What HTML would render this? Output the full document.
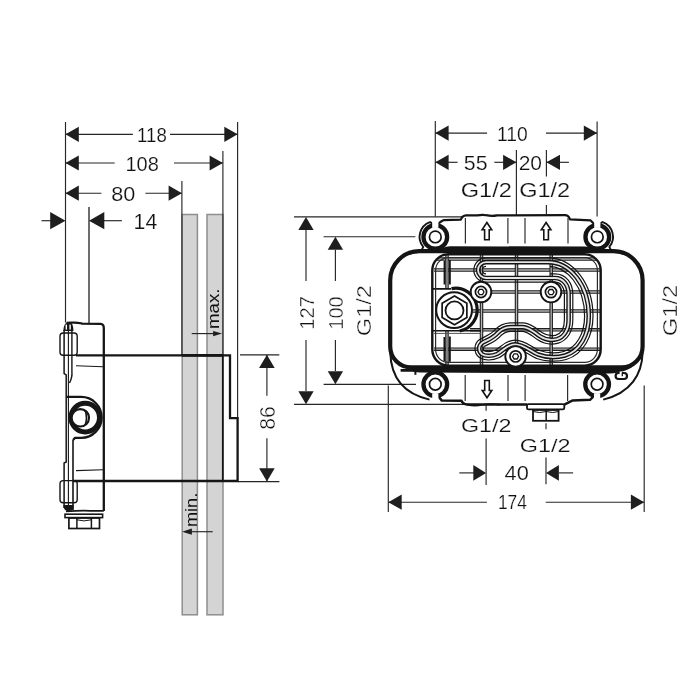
<!DOCTYPE html>
<html><head><meta charset="utf-8"><style>
html,body{margin:0;padding:0;background:#fff;width:700px;height:700px;overflow:hidden}
svg{display:block;filter:grayscale(1)}
text{font-family:"Liberation Sans",sans-serif}
.t{opacity:0.995}
</style></head><body>
<svg width="700" height="700" viewBox="0 0 700 700">
<rect width="700" height="700" fill="#fff"/>
<rect x="182.2" y="214.5" width="15.2" height="400.3" fill="#d4d4d4" stroke="#8e8e8e" stroke-width="1.5"/>
<rect x="207" y="214.5" width="16" height="400.3" fill="#d4d4d4" stroke="#8e8e8e" stroke-width="1.5"/>
<line x1="65.5" y1="122" x2="65.5" y2="322.5" stroke="#262626" stroke-width="1.15" />
<line x1="89" y1="207" x2="89" y2="323.5" stroke="#262626" stroke-width="1.35" />
<line x1="181.9" y1="181" x2="181.9" y2="355.4" stroke="#262626" stroke-width="1.15" />
<line x1="222.9" y1="151" x2="222.9" y2="355.4" stroke="#262626" stroke-width="1.15" />
<line x1="237.6" y1="122" x2="237.6" y2="418.2" stroke="#262626" stroke-width="1.15" />
<line x1="65.5" y1="134.3" x2="132.9" y2="134.3" stroke="#262626" stroke-width="1.15" />
<line x1="170" y1="134.3" x2="237.6" y2="134.3" stroke="#262626" stroke-width="1.15" />
<polygon points="65.50,134.30 78.80,126.70 78.80,141.90" fill="#1e1e1e"/>
<polygon points="237.60,134.30 224.30,126.70 224.30,141.90" fill="#1e1e1e"/>
<text class="t" transform="translate(137.11,141.90) scale(0.8816,1)" font-size="21.14" fill="#111" stroke="#fff" stroke-width="0.2">118</text>
<line x1="65.5" y1="163" x2="114.7" y2="163" stroke="#262626" stroke-width="1.15" />
<line x1="174" y1="163" x2="222.9" y2="163" stroke="#262626" stroke-width="1.15" />
<polygon points="65.50,163.00 78.80,155.40 78.80,170.60" fill="#1e1e1e"/>
<polygon points="222.90,163.00 209.60,155.40 209.60,170.60" fill="#1e1e1e"/>
<text class="t" transform="translate(125.50,170.70) scale(0.9790,1)" font-size="20.43" fill="#111" stroke="#fff" stroke-width="0.2">108</text>
<line x1="65.5" y1="193.2" x2="101.4" y2="193.2" stroke="#262626" stroke-width="1.15" />
<line x1="145.4" y1="193.2" x2="181.9" y2="193.2" stroke="#262626" stroke-width="1.15" />
<polygon points="65.50,193.20 78.80,185.60 78.80,200.80" fill="#1e1e1e"/>
<polygon points="181.90,193.20 168.60,185.60 168.60,200.80" fill="#1e1e1e"/>
<text class="t" transform="translate(111.13,200.70) scale(1.0598,1)" font-size="20.43" fill="#111" stroke="#fff" stroke-width="0.2">80</text>
<line x1="41.5" y1="220.7" x2="52" y2="220.7" stroke="#262626" stroke-width="1.15" />
<line x1="100" y1="220.7" x2="121.9" y2="220.7" stroke="#262626" stroke-width="1.15" />
<polygon points="65.50,220.70 50.20,212.10 50.20,229.30" fill="#1e1e1e"/>
<polygon points="89.00,220.70 104.30,212.10 104.30,229.30" fill="#1e1e1e"/>
<text class="t" transform="translate(133.60,229.20) scale(0.9998,1)" font-size="21.30" fill="#111" stroke="#fff" stroke-width="0.2">14</text>
<line x1="240" y1="354.8" x2="279.3" y2="354.8" stroke="#262626" stroke-width="1.15" />
<line x1="238" y1="481.6" x2="279.4" y2="481.6" stroke="#262626" stroke-width="1.15" />
<line x1="266.9" y1="354.8" x2="266.9" y2="395.8" stroke="#262626" stroke-width="1.15" />
<line x1="266.9" y1="438.3" x2="266.9" y2="481.6" stroke="#262626" stroke-width="1.15" />
<polygon points="266.90,354.80 259.10,368.10 274.70,368.10" fill="#1e1e1e"/>
<polygon points="266.90,481.60 259.10,468.30 274.70,468.30" fill="#1e1e1e"/>
<text class="t" transform="translate(275.10,429.75) rotate(-90) scale(0.9943,1)" font-size="21.29" fill="#111" stroke="#fff" stroke-width="0.4">86</text>
<line x1="191.7" y1="333.6" x2="214" y2="333.6" stroke="#262626" stroke-width="1.15" />
<polygon points="222.10,333.60 213.10,331.00 213.10,336.20" fill="#1e1e1e"/>
<text class="t" transform="translate(219.30,329.11) rotate(-90) scale(1.1254,1)" font-size="16.67" fill="#111" >max.</text>
<line x1="190" y1="531.7" x2="212.7" y2="531.7" stroke="#262626" stroke-width="1.15" />
<polygon points="182.10,531.70 191.90,528.60 191.90,534.80" fill="#1e1e1e"/>
<text class="t" transform="translate(197.40,527.07) rotate(-90) scale(1.0427,1)" font-size="17.41" fill="#111" >min.</text>
<path d="M76,355.4 L230,355.4 L230,418.2 L237.6,418.2 L237.6,481 L73,481" fill="none" stroke="#161616" stroke-width="2.3" stroke-linejoin="miter"/>
<line x1="222.8" y1="355.4" x2="222.8" y2="481" stroke="#161616" stroke-width="1.8" />
<line x1="181.9" y1="355.4" x2="223" y2="355.4" stroke="#161616" stroke-width="2.6" />
<path d="M66.5,322.8 C70,322.4 80,322.6 82,323.6 L100.5,323.8 Q103.8,324 103.8,328 L103.8,511" fill="none" stroke="#161616" stroke-width="2.3"/>
<line x1="76" y1="365.8" x2="103" y2="366.8" stroke="#161616" stroke-width="1.1" />
<line x1="76" y1="470.6" x2="103" y2="469.8" stroke="#161616" stroke-width="1.1" />
<path d="M64.1,330 L64.1,373.5 L66.2,375 L66.2,462 L64.1,463 L64.1,508" fill="none" stroke="#161616" stroke-width="1.5"/>
<line x1="68.4" y1="330" x2="68.4" y2="510" stroke="#161616" stroke-width="1.1" />
<path d="M71.9,330 L71.9,372 Q72.5,377 69.5,383" fill="none" stroke="#161616" stroke-width="1.4"/>
<line x1="73" y1="440" x2="73" y2="510" stroke="#161616" stroke-width="1.6" />
<path d="M63.4,331 Q63.6,323.5 67.5,322.6 L70.5,322.6 Q73.4,324 73.4,331 Z" fill="#161616"/>
<rect x="65.6" y="324.6" width="1.4" height="5" fill="#fff"/>
<rect x="69.4" y="324.6" width="1.4" height="5" fill="#fff"/>
<rect x="60" y="333" width="17.2" height="22.3" rx="3.2" fill="none" stroke="#161616" stroke-width="1.4"/>
<rect x="60" y="480.6" width="17.2" height="22.2" rx="3.2" fill="none" stroke="#161616" stroke-width="1.4"/>
<path d="M63.4,505 L73.4,505 L73.4,509 Q70,512 67,511 Q63.4,510 63.4,505 Z" fill="#161616"/>
<path d="M66,511.3 Q80,510.5 90,510.8 L103.8,510.8" fill="none" stroke="#161616" stroke-width="1.8"/>
<path d="M66.5,396.9 L81.2,396.9 A20.5,20.5 0 0 1 81.2,437.9 L75,437.9 L73,440" fill="none" stroke="#161616" stroke-width="2.2"/>
<circle cx="85.2" cy="417.6" r="14.3" fill="none" stroke="#161616" stroke-width="5"/>
<circle cx="80.3" cy="417.8" r="8.7" fill="#fff" stroke="#161616" stroke-width="2.2"/>
<path d="M85.3,410.8 Q87.6,417.8 85.3,424.8" fill="none" stroke="#161616" stroke-width="1.6"/>
<rect x="65" y="514.2" width="37.6" height="3.4" fill="none" stroke="#161616" stroke-width="1.6"/>
<rect x="68.9" y="518" width="30.6" height="10.5" fill="none" stroke="#161616" stroke-width="1.7"/>
<line x1="76.9" y1="518" x2="76.9" y2="528.5" stroke="#161616" stroke-width="1.5" />
<line x1="91.4" y1="518" x2="91.4" y2="528.5" stroke="#161616" stroke-width="1.5" />
<path d="M76.9,519.8 Q84,522 91.4,519.8" fill="none" stroke="#161616" stroke-width="1"/>
<line x1="435.3" y1="121" x2="435.3" y2="216.5" stroke="#262626" stroke-width="1.15" />
<line x1="597.1" y1="121.4" x2="597.1" y2="216.5" stroke="#262626" stroke-width="1.15" />
<line x1="516.4" y1="150" x2="516.4" y2="215" stroke="#262626" stroke-width="1.15" />
<line x1="546.4" y1="150" x2="546.4" y2="176.4" stroke="#262626" stroke-width="1.15" />
<line x1="546.4" y1="205" x2="546.4" y2="214" stroke="#262626" stroke-width="1.15" />
<line x1="435.3" y1="133.1" x2="487.1" y2="133.1" stroke="#262626" stroke-width="1.15" />
<line x1="546" y1="133.1" x2="597.1" y2="133.1" stroke="#262626" stroke-width="1.15" />
<polygon points="435.30,133.10 448.60,125.50 448.60,140.70" fill="#1e1e1e"/>
<polygon points="597.10,133.10 583.80,125.50 583.80,140.70" fill="#1e1e1e"/>
<text class="t" transform="translate(497.06,141.00) scale(0.9230,1)" font-size="20.86" fill="#111" stroke="#fff" stroke-width="0.2">110</text>
<line x1="435.3" y1="162.3" x2="457.6" y2="162.3" stroke="#262626" stroke-width="1.15" />
<line x1="494.3" y1="162.3" x2="516.4" y2="162.3" stroke="#262626" stroke-width="1.15" />
<polygon points="435.30,162.30 448.60,154.70 448.60,169.90" fill="#1e1e1e"/>
<polygon points="516.40,162.30 503.10,154.70 503.10,169.90" fill="#1e1e1e"/>
<text class="t" transform="translate(463.85,169.70) scale(1.0306,1)" font-size="20.72" fill="#111" stroke="#fff" stroke-width="0.2">55</text>
<line x1="546.4" y1="162.3" x2="568.9" y2="162.3" stroke="#262626" stroke-width="1.15" />
<polygon points="546.40,162.30 560.00,154.70 560.00,169.90" fill="#1e1e1e"/>
<text class="t" transform="translate(518.65,169.70) scale(1.0270,1)" font-size="20.43" fill="#111" stroke="#fff" stroke-width="0.2">20</text>
<text class="t" transform="translate(460.72,197.10) scale(1.1473,1)" font-size="20.55" fill="#111" stroke="#fff" stroke-width="0.2">G1/2</text>
<text class="t" transform="translate(519.22,197.10) scale(1.1450,1)" font-size="20.55" fill="#111" stroke="#fff" stroke-width="0.2">G1/2</text>
<line x1="294" y1="216.9" x2="463" y2="216.9" stroke="#262626" stroke-width="1.15" />
<line x1="294" y1="404.3" x2="470" y2="404.3" stroke="#262626" stroke-width="1.15" />
<line x1="306" y1="230" x2="306" y2="281.1" stroke="#262626" stroke-width="1.15" />
<line x1="306" y1="340" x2="306" y2="391" stroke="#262626" stroke-width="1.15" />
<polygon points="306.00,216.90 298.35,230.00 313.65,230.00" fill="#1e1e1e"/>
<polygon points="306.00,404.30 298.35,391.20 313.65,391.20" fill="#1e1e1e"/>
<text class="t" transform="translate(313.60,329.71) rotate(-90) scale(0.9586,1)" font-size="21.00" fill="#111" stroke="#fff" stroke-width="0.4">127</text>
<line x1="323.6" y1="236.7" x2="415.4" y2="236.7" stroke="#262626" stroke-width="1.15" />
<line x1="323.6" y1="384.3" x2="416" y2="384.3" stroke="#262626" stroke-width="1.15" />
<line x1="335.4" y1="249.7" x2="335.4" y2="281.1" stroke="#262626" stroke-width="1.15" />
<line x1="335.4" y1="340" x2="335.4" y2="371.1" stroke="#262626" stroke-width="1.15" />
<polygon points="335.40,236.70 327.75,249.80 343.05,249.80" fill="#1e1e1e"/>
<polygon points="335.40,384.30 327.75,371.20 343.05,371.20" fill="#1e1e1e"/>
<text class="t" transform="translate(343.10,329.70) rotate(-90) scale(0.9459,1)" font-size="21.14" fill="#111" stroke="#fff" stroke-width="0.4">100</text>
<text class="t" transform="translate(371.40,336.18) rotate(-90) scale(1.1198,1)" font-size="21.10" fill="#111" stroke="#fff" stroke-width="0.4">G1/2</text>
<text class="t" transform="translate(677.00,336.18) rotate(-90) scale(1.1520,1)" font-size="20.55" fill="#111" stroke="#fff" stroke-width="0.4">G1/2</text>
<line x1="388.3" y1="385.4" x2="388.3" y2="512" stroke="#262626" stroke-width="1.15" />
<line x1="644.2" y1="385.6" x2="644.2" y2="512" stroke="#262626" stroke-width="1.15" />
<line x1="388.3" y1="502.2" x2="486.9" y2="502.2" stroke="#262626" stroke-width="1.15" />
<line x1="545.7" y1="502.2" x2="644.2" y2="502.2" stroke="#262626" stroke-width="1.15" />
<polygon points="388.30,502.20 401.70,494.60 401.70,509.80" fill="#1e1e1e"/>
<polygon points="644.20,502.20 630.90,494.60 630.90,509.80" fill="#1e1e1e"/>
<text class="t" transform="translate(497.91,509.30) scale(0.8382,1)" font-size="20.72" fill="#111" stroke="#fff" stroke-width="0.2">174</text>
<line x1="486.1" y1="405" x2="486.1" y2="410.7" stroke="#262626" stroke-width="1.15" />
<line x1="486.1" y1="438.6" x2="486.1" y2="485" stroke="#262626" stroke-width="1.15" />
<line x1="546" y1="423.3" x2="546" y2="429.3" stroke="#262626" stroke-width="1.15" />
<line x1="546" y1="457.6" x2="546" y2="484.3" stroke="#262626" stroke-width="1.15" />
<line x1="459.3" y1="472.9" x2="474" y2="472.9" stroke="#262626" stroke-width="1.15" />
<line x1="559" y1="472.9" x2="573.1" y2="472.9" stroke="#262626" stroke-width="1.15" />
<polygon points="486.10,472.90 473.30,465.10 473.30,480.70" fill="#1e1e1e"/>
<polygon points="546.00,472.90 558.90,465.10 558.90,480.70" fill="#1e1e1e"/>
<text class="t" transform="translate(504.56,480.00) scale(1.1225,1)" font-size="19.43" fill="#111" stroke="#fff" stroke-width="0.2">40</text>
<text class="t" transform="translate(460.93,431.90) scale(1.2167,1)" font-size="19.18" fill="#111" stroke="#fff" stroke-width="0.2">G1/2</text>
<text class="t" transform="translate(519.83,452.10) scale(1.2670,1)" font-size="18.49" fill="#111" stroke="#fff" stroke-width="0.2">G1/2</text>
<path d="M390.3,352.5 C390.8,374 401,393 429.5,399.6" fill="none" stroke="#141414" stroke-width="2"/>
<path d="M642.6,352.5 C642.1,374 631,393 603.2,399.6" fill="none" stroke="#141414" stroke-width="2"/>
<path d="M438.2,223.6 L441.9,221 L443.5,220.2 L460.8,219.6 Q462.5,215.6 466,215.4 L477,215.4 Q483,214.4 486,215.2 Q492,216.3 497,215.3 L565,215.2 Q568.5,215.2 570,219.4 L590.4,220.3 L594.1,224" fill="none" stroke="#141414" stroke-width="2.2" stroke-linejoin="round"/>
<line x1="465.4" y1="218" x2="465.4" y2="243.5" stroke="#2e2e2e" stroke-width="1.2" />
<line x1="507.9" y1="218" x2="507.9" y2="243.5" stroke="#2e2e2e" stroke-width="1.2" />
<line x1="525" y1="218" x2="525" y2="243.5" stroke="#2e2e2e" stroke-width="1.2" />
<line x1="568" y1="218" x2="568" y2="243.5" stroke="#2e2e2e" stroke-width="1.2" />
<path d="M439,397.1 L441.9,400.6 L461.5,400.8 Q463,404.4 467,404.4 L527,404.4 M564.3,404.6 L572.7,400.4 L590,399.8 L592.8,397.2" fill="none" stroke="#141414" stroke-width="2.5" stroke-linejoin="round"/>
<path d="M467,404.6 Q475,406.6 482,404.8 Q490,403.2 500,404.6" fill="none" stroke="#141414" stroke-width="1.6"/>
<line x1="465.2" y1="375" x2="465.2" y2="401" stroke="#2e2e2e" stroke-width="1.2" />
<line x1="508" y1="375" x2="508" y2="401" stroke="#2e2e2e" stroke-width="1.2" />
<line x1="525.1" y1="375" x2="525.1" y2="401" stroke="#2e2e2e" stroke-width="1.2" />
<line x1="567.6" y1="375" x2="567.6" y2="401" stroke="#2e2e2e" stroke-width="1.2" />
<path d="M486.9,222.5 L491.7,229.8 L489.2,229.8 L489.2,239.8 L484.59999999999997,239.8 L484.59999999999997,229.8 L482.09999999999997,229.8 Z" fill="#fff" stroke="#141414" stroke-width="1.6" stroke-linejoin="miter"/>
<path d="M546.1,222.5 L550.9,229.8 L548.4,229.8 L548.4,239.8 L543.8000000000001,239.8 L543.8000000000001,229.8 L541.3000000000001,229.8 Z" fill="#fff" stroke="#141414" stroke-width="1.6" stroke-linejoin="miter"/>
<path d="M487,397.8 L491.8,390.5 L489.3,390.5 L489.3,380.5 L484.7,380.5 L484.7,390.5 L482.2,390.5 Z" fill="#fff" stroke="#141414" stroke-width="1.6" stroke-linejoin="miter"/>
<path d="M419.2,251.2 L613.6,251.2 A29,29 0 0 1 642.6,280.2 L642.6,346.4 A21,21 0 0 1 621.6,367.4 L411.2,367.4 A21,21 0 0 1 390.2,346.4 L390.2,280.2 A29,29 0 0 1 419.2,251.2 Z" fill="none" stroke="#141414" stroke-width="4.2"/>
<path d="M438,252.3 Q442,246.2 450,246.2 L585,246.6 Q592,246.8 597,251.5 Z" fill="#141414"/>
<path d="M400.6,369 L412,369 L412,367.6 L620,367.8 L633,366.5 C626,371.5 616,373.6 606,373.6 L420,372.4 L412,371.8 L400.6,371.8 Z" fill="#141414"/>
<path d="M415.4,371 L415.4,374.8" stroke="#141414" stroke-width="2"/>
<rect x="615.6" y="373" width="11.4" height="6" rx="3" fill="none" stroke="#141414" stroke-width="2.2"/>
<rect x="619.6" y="371.5" width="2.4" height="3.2" fill="#fff"/><line x1="622.3" y1="372.6" x2="622.3" y2="376.2" stroke="#141414" stroke-width="1.3"/>
<circle cx="435.3" cy="236.9" r="11.85" fill="#fff" stroke="#141414" stroke-width="4.3"/>
<circle cx="435.3" cy="236.9" r="5.85" fill="#fff" stroke="#141414" stroke-width="1.7"/>
<path d="M432.30,223.30 L429.93,222.15 A15.7,15.7 0 0 0 423.27,246.99 L421.47,250.39" fill="none" stroke="#141414" stroke-width="1.9"/>
<rect x="432.2" y="220.9" width="6.2" height="7" fill="#fff"/>
<circle cx="597.3" cy="236.9" r="11.85" fill="#fff" stroke="#141414" stroke-width="4.3"/>
<circle cx="597.3" cy="236.9" r="5.85" fill="#fff" stroke="#141414" stroke-width="1.7"/>
<path d="M600.30,223.30 L602.67,222.15 A15.7,15.7 0 0 1 609.33,246.99 L611.13,250.39" fill="none" stroke="#141414" stroke-width="1.9"/>
<rect x="594.1999999999999" y="220.9" width="6.2" height="7" fill="#fff"/>
<circle cx="435.3" cy="384.3" r="11.85" fill="#fff" stroke="#141414" stroke-width="4.3"/>
<circle cx="435.3" cy="384.3" r="5.85" fill="#fff" stroke="#141414" stroke-width="1.7"/>
<rect x="432.2" y="393.3" width="6.2" height="7" fill="#fff"/>
<circle cx="597.1" cy="384.3" r="11.85" fill="#fff" stroke="#141414" stroke-width="4.3"/>
<circle cx="597.1" cy="384.3" r="5.85" fill="#fff" stroke="#141414" stroke-width="1.7"/>
<rect x="594.0" y="393.3" width="6.2" height="7" fill="#fff"/>
<rect x="527" y="404.2" width="37.3" height="5.2" rx="1.5" fill="#fff" stroke="#141414" stroke-width="1.8"/>
<rect x="533" y="410" width="25.6" height="10.8" fill="#fff" stroke="#141414" stroke-width="1.8"/>
<line x1="546.2" y1="410" x2="546.2" y2="420.8" stroke="#141414" stroke-width="1.5" />
<path d="M533,411.5 Q539.6,413.6 546.2,411.5 Q552.9,413.6 558.6,411.5" fill="none" stroke="#141414" stroke-width="1"/>
<clipPath id="fc"><rect x="432.3" y="254.3" width="168.40000000000003" height="111.30000000000001" rx="16"/></clipPath><g clip-path="url(#fc)">
<line x1="434" y1="259" x2="600" y2="259" stroke="#1e1e1e" stroke-width="3.5"/>
<line x1="434" y1="259" x2="600" y2="259" stroke="#b4b4b4" stroke-width="1.3"/>
<line x1="434" y1="270" x2="600" y2="270" stroke="#1e1e1e" stroke-width="3.5"/>
<line x1="434" y1="270" x2="600" y2="270" stroke="#b4b4b4" stroke-width="1.3"/>
<line x1="481" y1="292" x2="600" y2="292" stroke="#1e1e1e" stroke-width="3.5"/>
<line x1="481" y1="292" x2="600" y2="292" stroke="#b4b4b4" stroke-width="1.3"/>
<line x1="470" y1="311" x2="600" y2="311" stroke="#1e1e1e" stroke-width="3.5"/>
<line x1="470" y1="311" x2="600" y2="311" stroke="#b4b4b4" stroke-width="1.3"/>
<line x1="470" y1="329.8" x2="600" y2="329.8" stroke="#1e1e1e" stroke-width="3.5"/>
<line x1="470" y1="329.8" x2="600" y2="329.8" stroke="#b4b4b4" stroke-width="1.3"/>
<line x1="434" y1="349.2" x2="600" y2="349.2" stroke="#1e1e1e" stroke-width="3.5"/>
<line x1="434" y1="349.2" x2="600" y2="349.2" stroke="#b4b4b4" stroke-width="1.3"/>
<line x1="447" y1="254" x2="447" y2="288" stroke="#1e1e1e" stroke-width="3.5"/>
<line x1="447" y1="254" x2="447" y2="288" stroke="#b4b4b4" stroke-width="1.3"/>
<line x1="447" y1="331" x2="447" y2="365" stroke="#1e1e1e" stroke-width="3.5"/>
<line x1="447" y1="331" x2="447" y2="365" stroke="#b4b4b4" stroke-width="1.3"/>
<line x1="481.5" y1="254" x2="481.5" y2="284" stroke="#1e1e1e" stroke-width="3.5"/>
<line x1="481.5" y1="254" x2="481.5" y2="284" stroke="#b4b4b4" stroke-width="1.3"/>
<line x1="481.5" y1="300" x2="481.5" y2="365" stroke="#1e1e1e" stroke-width="3.5"/>
<line x1="481.5" y1="300" x2="481.5" y2="365" stroke="#b4b4b4" stroke-width="1.3"/>
<line x1="516.5" y1="254" x2="516.5" y2="365" stroke="#1e1e1e" stroke-width="3.5"/>
<line x1="516.5" y1="254" x2="516.5" y2="365" stroke="#b4b4b4" stroke-width="1.3"/>
<line x1="551.2" y1="254" x2="551.2" y2="365" stroke="#1e1e1e" stroke-width="3.5"/>
<line x1="551.2" y1="254" x2="551.2" y2="365" stroke="#b4b4b4" stroke-width="1.3"/>
<line x1="432.5" y1="288.8" x2="451" y2="288.8" stroke="#141414" stroke-width="1.7"/>
<line x1="432.5" y1="330.8" x2="481" y2="330.8" stroke="#141414" stroke-width="1.6"/>
<line x1="434" y1="333.4" x2="481" y2="333.4" stroke="#555" stroke-width="1"/>
<line x1="449.9" y1="260" x2="449.9" y2="284.6" stroke="#141414" stroke-width="1.8"/>
<line x1="444.5" y1="261" x2="444.5" y2="284.6" stroke="#141414" stroke-width="1.8"/>
<line x1="449.9" y1="336.6" x2="449.9" y2="361.7" stroke="#141414" stroke-width="1.8"/>
<line x1="444.4" y1="337" x2="444.4" y2="361" stroke="#141414" stroke-width="1.8"/>
</g>
<rect x="432.3" y="254.3" width="168.40000000000003" height="111.30000000000001" rx="16" fill="none" stroke="#141414" stroke-width="2.4"/>
<rect x="435.6" y="257.6" width="161.80000000000004" height="104.70000000000002" rx="12.7" fill="none" stroke="#2a2a2a" stroke-width="1.2"/>
<mask id="chm" maskUnits="userSpaceOnUse" x="420" y="240" width="200" height="140"><path d="M486,262.1 L548,262.1 C570,262.1 588.8,285 588.8,316 C588.8,335 580,351 565,355.5 C556,358 545,357 538,354.5 C530,351 524,344.5 515,344.3 C507,344.3 503,351 497,354 C492,356.3 485,356.5 481.7,354 C478,351 478.5,345.5 482,343 C487,340 493,338.5 498,332.6 C501,329.5 504,327.3 511,327.1 L522.9,327.1 C530,327.5 535,333 540,336.3 C545,339.5 552,340.5 557.1,339.1 C564,337 568.6,330 568.6,320 L568.6,294 C568.6,285 563,278 555,278 L486,278 A7.95,7.95 0 0 1 486,262.1 Z" fill="none" stroke="#fff" stroke-width="9.6"/><path d="M486,262.1 L548,262.1 C570,262.1 588.8,285 588.8,316 C588.8,335 580,351 565,355.5 C556,358 545,357 538,354.5 C530,351 524,344.5 515,344.3 C507,344.3 503,351 497,354 C492,356.3 485,356.5 481.7,354 C478,351 478.5,345.5 482,343 C487,340 493,338.5 498,332.6 C501,329.5 504,327.3 511,327.1 L522.9,327.1 C530,327.5 535,333 540,336.3 C545,339.5 552,340.5 557.1,339.1 C564,337 568.6,330 568.6,320 L568.6,294 C568.6,285 563,278 555,278 L486,278 A7.95,7.95 0 0 1 486,262.1 Z" fill="none" stroke="#000" stroke-width="7.2"/><rect x="486" y="264.4" width="64" height="11.4" fill="#000"/></mask>
<rect x="420" y="240" width="200" height="140" fill="#141414" mask="url(#chm)"/>
<path d="M486,262.1 L548,262.1 C570,262.1 588.8,285 588.8,316 C588.8,335 580,351 565,355.5 C556,358 545,357 538,354.5 C530,351 524,344.5 515,344.3 C507,344.3 503,351 497,354 C492,356.3 485,356.5 481.7,354 C478,351 478.5,345.5 482,343 C487,340 493,338.5 498,332.6 C501,329.5 504,327.3 511,327.1 L522.9,327.1 C530,327.5 535,333 540,336.3 C545,339.5 552,340.5 557.1,339.1 C564,337 568.6,330 568.6,320 L568.6,294 C568.6,285 563,278 555,278 L486,278 A7.95,7.95 0 0 1 486,262.1 Z" fill="none" stroke="#141414" stroke-width="4.6" stroke-linejoin="round"/>
<path d="M486,262.1 L548,262.1 C570,262.1 588.8,285 588.8,316 C588.8,335 580,351 565,355.5 C556,358 545,357 538,354.5 C530,351 524,344.5 515,344.3 C507,344.3 503,351 497,354 C492,356.3 485,356.5 481.7,354 C478,351 478.5,345.5 482,343 C487,340 493,338.5 498,332.6 C501,329.5 504,327.3 511,327.1 L522.9,327.1 C530,327.5 535,333 540,336.3 C545,339.5 552,340.5 557.1,339.1 C564,337 568.6,330 568.6,320 L568.6,294 C568.6,285 563,278 555,278 L486,278 A7.95,7.95 0 0 1 486,262.1 Z" fill="none" stroke="#e4e4e4" stroke-width="1.8" stroke-linejoin="round"/>
<path d="M451.5,288.6 A21.4,21.4 0 0 1 459.7,331" fill="none" stroke="#141414" stroke-width="3.2"/>
<circle cx="454.1" cy="310.1" r="17.9" fill="#fff" stroke="#141414" stroke-width="2"/>
<polygon points="454.50,296.05 466.88,303.20 466.88,317.50 454.50,324.65 442.12,317.50 442.12,303.20" fill="#fff" stroke="#141414" stroke-width="1.7"/>
<circle cx="454.5" cy="310.4" r="9.0" fill="#fff" stroke="#141414" stroke-width="1.8"/>
<circle cx="481" cy="292" r="10.3" fill="#fff" stroke="#141414" stroke-width="1.9"/>
<circle cx="481" cy="292" r="5.6" fill="none" stroke="#141414" stroke-width="1.7"/>
<polygon points="484.00,292.00 482.50,294.60 479.50,294.60 478.00,292.00 479.50,289.40 482.50,289.40" fill="none" stroke="#141414" stroke-width="1.3"/>
<circle cx="551" cy="292.1" r="10.3" fill="#fff" stroke="#141414" stroke-width="1.9"/>
<circle cx="551" cy="292.1" r="5.6" fill="none" stroke="#141414" stroke-width="1.7"/>
<polygon points="554.00,292.10 552.50,294.70 549.50,294.70 548.00,292.10 549.50,289.50 552.50,289.50" fill="none" stroke="#141414" stroke-width="1.3"/>
<circle cx="515.6" cy="356.4" r="10.3" fill="#fff" stroke="#141414" stroke-width="1.9"/>
<circle cx="515.6" cy="356.4" r="5.6" fill="none" stroke="#141414" stroke-width="1.7"/>
<polygon points="518.60,356.40 517.10,359.00 514.10,359.00 512.60,356.40 514.10,353.80 517.10,353.80" fill="none" stroke="#141414" stroke-width="1.3"/>
</svg>
</body></html>
